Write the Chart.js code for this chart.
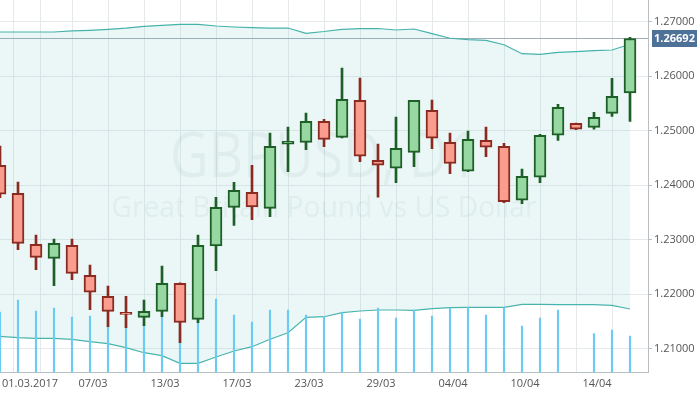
<!DOCTYPE html>
<html>
<head>
<meta charset="utf-8">
<script src="https://cdn.jsdelivr.net/npm/chart.js@4.4.1/dist/chart.umd.min.js"></script>
<style>
  html, body { margin: 0; padding: 0; background: #fff; }
  #wrap { width: 700px; height: 394px; }
</style>
</head>
<body>
<div id="wrap"><canvas id="chart" width="700" height="394"></canvas></div>
<script>
// ── Data (daily GBPUSD candles) ──
const dates = ['28/02', '01/03', '02/03', '03/03', '06/03', '07/03', '08/03', '09/03', '10/03', '13/03',
  '14/03', '15/03', '16/03', '17/03', '20/03', '21/03', '22/03', '23/03', '24/03', '27/03',
  '28/03', '29/03', '30/03', '31/03', '03/04', '04/04', '05/04', '06/04', '07/04', '10/04',
  '11/04', '12/04', '13/04', '14/04', '17/04', '18/04'];

const opens = [1.24367, 1.23853, 1.22918, 1.22661, 1.22900, 1.22349, 1.21964, 1.21671, 1.21579, 1.21689,
  1.22203, 1.21542, 1.22887, 1.23596, 1.23871, 1.23578, 1.24752, 1.24788, 1.25173, 1.24880,
  1.25559, 1.24458, 1.24312, 1.24605, 1.25375, 1.24788, 1.24257, 1.24825, 1.24715, 1.23725,
  1.24147, 1.24917, 1.25137, 1.25063, 1.25320, 1.25692];
const highs = [1.24721, 1.24060, 1.23088, 1.23015, 1.23015, 1.22538, 1.22153, 1.21964, 1.21896, 1.22520,
  1.22210, 1.23088, 1.23780, 1.24055, 1.24367, 1.24959, 1.25069, 1.25326, 1.25210, 1.26151,
  1.25968, 1.24757, 1.25252, 1.25560, 1.25564, 1.24959, 1.24996, 1.25069, 1.24770, 1.24299,
  1.24935, 1.25485, 1.25140, 1.25339, 1.25962, 1.26714];
const lows = [1.23772, 1.22819, 1.22452, 1.22159, 1.22269, 1.21718, 1.21407, 1.21388, 1.21425, 1.21590,
  1.21113, 1.21480, 1.22434, 1.23266, 1.23369, 1.23424, 1.24249, 1.24653, 1.24708, 1.24870,
  1.24433, 1.23780, 1.24048, 1.24341, 1.24671, 1.24213, 1.24250, 1.24524, 1.23681, 1.23662,
  1.24048, 1.24825, 1.25020, 1.25027, 1.25265, 1.25173];
const closes = [1.23835, 1.22936, 1.22679, 1.22936, 1.22386, 1.22038, 1.21689, 1.21634, 1.21689, 1.22203,
  1.21484, 1.22900, 1.23596, 1.23908, 1.23602, 1.24715, 1.24807, 1.25173, 1.24843, 1.25577,
  1.24532, 1.24367, 1.24678, 1.25559, 1.24862, 1.24400, 1.24843, 1.24697, 1.23699, 1.24165,
  1.24917, 1.25430, 1.25027, 1.25247, 1.25632, 1.26692];

// Bollinger bands
const upperBand = [1.26811, 1.26811, 1.26811, 1.26811, 1.26830, 1.26842, 1.26861, 1.26884, 1.26916, 1.26934,
  1.26952, 1.26952, 1.26921, 1.26903, 1.26890, 1.26884, 1.26884, 1.26787, 1.26820, 1.26861,
  1.26872, 1.26875, 1.26848, 1.26866, 1.26780, 1.26696, 1.26670, 1.26659, 1.26578, 1.26413,
  1.26402, 1.26439, 1.26450, 1.26468, 1.26481, 1.26586];
const lowerBand = [1.21231, 1.21205, 1.21194, 1.21194, 1.21176, 1.21132, 1.21095, 1.21022, 1.20930, 1.20875,
  1.20736, 1.20736, 1.20851, 1.20961, 1.21040, 1.21176, 1.21297, 1.21579, 1.21590, 1.21664,
  1.21695, 1.21713, 1.21713, 1.21707, 1.21737, 1.21755, 1.21762, 1.21762, 1.21762, 1.21817,
  1.21817, 1.21810, 1.21810, 1.21810, 1.21799, 1.21731];

// Tick volume
const volumes = [60500, 72500, 61500, 64500, 55500, 56500, 52000, 54000, 50000, 60000,
  42000, 54000, 73500, 57500, 50500, 62500, 62500, 57500, 56000, 60000,
  53500, 64500, 54500, 62500, 56500, 64500, 65000, 57500, 65000, 46500,
  54500, 62500, 0, 39000, 42500, 36500];

const priceTicks = [1.21, 1.22, 1.23, 1.24, 1.25, 1.26, 1.27];
const xTickIdx = [1, 5, 9, 13, 17, 21, 25, 29, 33];
const xTickLabels = ['01.03.2017', '07/03', '13/03', '17/03', '23/03', '29/03', '04/04', '10/04', '14/04'];

// ── Colors ──
const colors = {
  upFill: '#97d7a1',
  upLine: '#1d5f26',
  downFill: '#f99d8f',
  downLine: '#8b2a20',
  band: '#46b3ab',
  bandFill: 'rgba(110, 200, 200, 0.14)',
  volume: '#6ccbf3',
  grid: '#e6e9ea',
  axis: '#b9bec2',
  tick: '#555',
  priceLine: '#9fadb8',
  priceBox: '#4e7197',
};

const isUp = i => closes[i] >= opens[i];
const xy = arr => arr.map((v, i) => ({ x: i, y: v }));

// ── Watermark ──
const watermark = {
  id: 'watermark',
  beforeDatasetsDraw(chart) {
    const { ctx } = chart;
    ctx.save();
    ctx.fillStyle = 'rgba(150, 172, 172, 0.13)';
    ctx.textAlign = 'center';
    ctx.textBaseline = 'alphabetic';
    const lines = [
      { text: 'GBPUSD, D1', size: 63, w: 308, y: 177 },
      { text: 'Great Britain Pound vs US Dollar', size: 30, w: 425, y: 217 },
    ];
    lines.forEach(l => {
      ctx.font = l.size + 'px "Open Sans"';
      const m = ctx.measureText(l.text).width;
      ctx.save();
      ctx.translate(324, l.y);
      ctx.scale(l.w / m, 1);
      ctx.fillText(l.text, 0, 0);
      ctx.restore();
    });
    ctx.restore();
  }
};

// ── Last price line + label ──
const lastPrice = {
  id: 'lastPrice',
  beforeDatasetsDraw(chart) {
    const { ctx, chartArea, scales } = chart;
    const y = Math.round(scales.y.getPixelForValue(closes[closes.length - 1])) + 0.5;
    ctx.save();
    ctx.strokeStyle = colors.priceLine;
    ctx.lineWidth = 1;
    ctx.beginPath();
    ctx.moveTo(chartArea.left, y);
    ctx.lineTo(chartArea.right, y);
    ctx.stroke();
    ctx.restore();
  },
  afterDraw(chart) {
    const { ctx, chartArea, scales } = chart;
    const v = closes[closes.length - 1];
    const y = scales.y.getPixelForValue(v);
    ctx.save();
    ctx.fillStyle = colors.priceBox;
    ctx.fillRect(chartArea.right + 4, y - 8.5, 45, 17);
    ctx.fillStyle = '#fff';
    ctx.font = 'bold 11px "Open Sans"';
    ctx.textAlign = 'center';
    ctx.textBaseline = 'middle';
    ctx.fillText(v.toFixed(5), chartArea.right + 26.5, y + 0.5);
    ctx.restore();
  }
};

new Chart(document.getElementById('chart'), {
  type: 'bar',
  data: {
    datasets: [
      {
        type: 'line',
        data: xy(upperBand),
        borderColor: colors.band,
        borderWidth: 1.2,
        pointRadius: 0,
        fill: '+1',
        backgroundColor: colors.bandFill,
        order: 5,
      },
      {
        type: 'line',
        data: xy(lowerBand),
        borderColor: colors.band,
        borderWidth: 1.2,
        pointRadius: 0,
        fill: false,
        order: 5,
      },
      {
        data: xy(volumes),
        yAxisID: 'yv',
        backgroundColor: colors.volume,
        barThickness: 1.5,
        order: 4,
      },
      {
        data: lows.map((l, i) => ({ x: i, y: [l, highs[i]] })),
        backgroundColor: ctx => isUp(ctx.dataIndex) ? colors.upLine : colors.downLine,
        barThickness: 2,
        order: 2,
      },
      {
        data: opens.map((o, i) => ({ x: i, y: [o, closes[i]] })),
        backgroundColor: ctx => isUp(ctx.dataIndex) ? colors.upFill : colors.downFill,
        borderColor: ctx => isUp(ctx.dataIndex) ? colors.upLine : colors.downLine,
        borderWidth: 2,
        borderSkipped: false,
        barThickness: 12,
        order: 1,
      },
    ]
  },
  options: {
    responsive: false,
    animation: false,
    layout: { padding: 0 },
    datasets: { bar: { grouped: false } },
    plugins: {
      legend: { display: false },
      tooltip: { enabled: false },
    },
    scales: {
      x: {
        type: 'linear',
        min: 0,
        max: dates.length,
        offset: false,
        afterBuildTicks: (scale) => {
          const t = [];
          for (let i = 1; i < dates.length; i += 2) t.push(i);
          t.push(1.5); // first label sits right of its grid line
          scale.ticks = t.sort((a, b) => a - b).map(v => ({ value: v }));
        },
        afterFit: (scale) => {
          scale.height = 21.5;
          scale.paddingLeft = 0;
          scale.paddingRight = 0;
        },
        grid: {
          color: ctx => (ctx.tick && ctx.tick.value === 1.5) ? 'rgba(0,0,0,0)' : colors.grid,
          drawTicks: false,
        },
        border: { color: colors.axis },
        ticks: {
          autoSkip: false,
          maxRotation: 0,
          minRotation: 0,
          padding: 5,
          labelOffset: 3,
          color: colors.tick,
          font: { family: '"Open Sans"', size: 11 },
          callback: (v) => {
            if (v === 1.5) return xTickLabels[0];
            const k = xTickIdx.indexOf(v);
            return k > 0 ? xTickLabels[k] : '';
          }
        }
      },
      y: {
        position: 'right',
        min: 1.20567,
        max: 1.27398,
        afterBuildTicks: (scale) => {
          scale.ticks = priceTicks.map(v => ({ value: v }));
        },
        afterFit: (scale) => {
          scale.width = 52;
          scale.paddingTop = 0;
          scale.paddingBottom = 0;
        },
        grid: { color: colors.grid, tickLength: 4, tickColor: colors.axis },
        border: { color: colors.axis },
        ticks: {
          padding: 2,
          color: colors.tick,
          font: { family: '"Open Sans"', size: 11 },
          callback: v => v.toFixed(5),
        }
      },
      yv: {
        display: false,
        min: 0,
        max: 372500,
      }
    }
  },
  plugins: [watermark, lastPrice]
});
</script>
</body>
</html>
